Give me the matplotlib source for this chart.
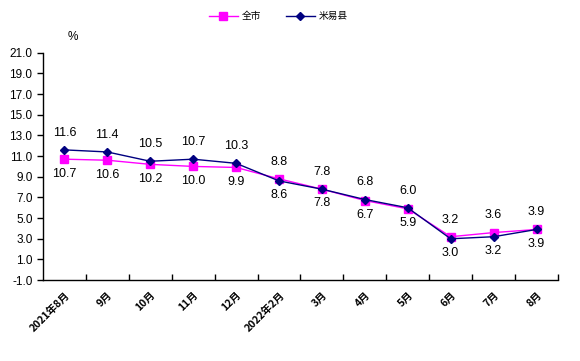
import numpy as np
import matplotlib
matplotlib.use("Agg")
import matplotlib.pyplot as plt

months = ["2021年8月", "9月", "10月", "11月", "12月", "2022年2月",
          "3月", "4月", "5月", "6月", "7月", "8月"]
city = [10.7, 10.6, 10.2, 10.0, 9.9, 8.8, 7.8, 6.7, 5.9, 3.2, 3.6, 3.9]
county = [11.6, 11.4, 10.5, 10.7, 10.3, 8.6, 7.8, 6.8, 6.0, 3.0, 3.2, 3.9]
y_ticks = np.arange(-1.0, 21.5, 2.0)

plt.rcParams['font.family'] = ['Liberation Sans', 'Noto Sans CJK SC', 'DejaVu Sans']

fig = plt.figure(figsize=(5.8, 3.61), dpi=100)
ax = fig.add_axes([0.074, 0.224, 0.888, 0.63])

x = np.arange(len(months))
ax.plot(x, city, color='#FF00FF', marker='s', markersize=6, linewidth=1.0, label='全市')
ax.plot(x, county, color='#000080', marker='D', markersize=4, linewidth=1.0,
        markerfacecolor='#000080', label='米易县')

# higher value labelled above, lower value below
for i in range(len(months)):
    c, k = city[i], county[i]
    hi, lo = (k, c) if k >= c else (c, k)
    ax.annotate(f"{hi:.1f}", (x[i], hi), xytext=(0, 8), textcoords='offset points',
                ha='center', va='bottom', fontsize=9)
    ax.annotate(f"{lo:.1f}", (x[i], lo), xytext=(0, -6), textcoords='offset points',
                ha='center', va='top', fontsize=9)

ax.set_xlim(-0.5, 11.5)
ax.set_ylim(-1, 21)
ax.set_yticks(y_ticks)
ax.set_yticklabels([f"{v:.1f}" for v in y_ticks], fontsize=8.5)
ax.tick_params(axis='y', direction='out', length=4, width=1)

ax.set_xticks(x)
ax.set_xticklabels(months, rotation=45, ha='right', va='top', fontsize=7.5,
                   family=['Noto Sans CJK SC', 'DejaVu Sans'], fontweight='bold',
                   rotation_mode='anchor')
ax.tick_params(axis='x', which='major', length=0, pad=7)
ax.set_xticks(np.arange(0.5, 12, 1), minor=True)
ax.tick_params(axis='x', which='minor', direction='in', length=4, width=1)

for s in ['top', 'right']:
    ax.spines[s].set_visible(False)
for s in ['left', 'bottom']:
    ax.spines[s].set_linewidth(1)

fig.text(0.126, 0.897, "%", fontsize=8.5, ha='center', va='center')

fig.legend(loc='center', bbox_to_anchor=(0.48, 0.955), ncol=2, frameon=False,
           prop={'family': ['Noto Sans CJK SC', 'DejaVu Sans'], 'size': 7},
           handlelength=3, columnspacing=2.5, handletextpad=0.4)

fig.savefig("out.png", dpi=100)
